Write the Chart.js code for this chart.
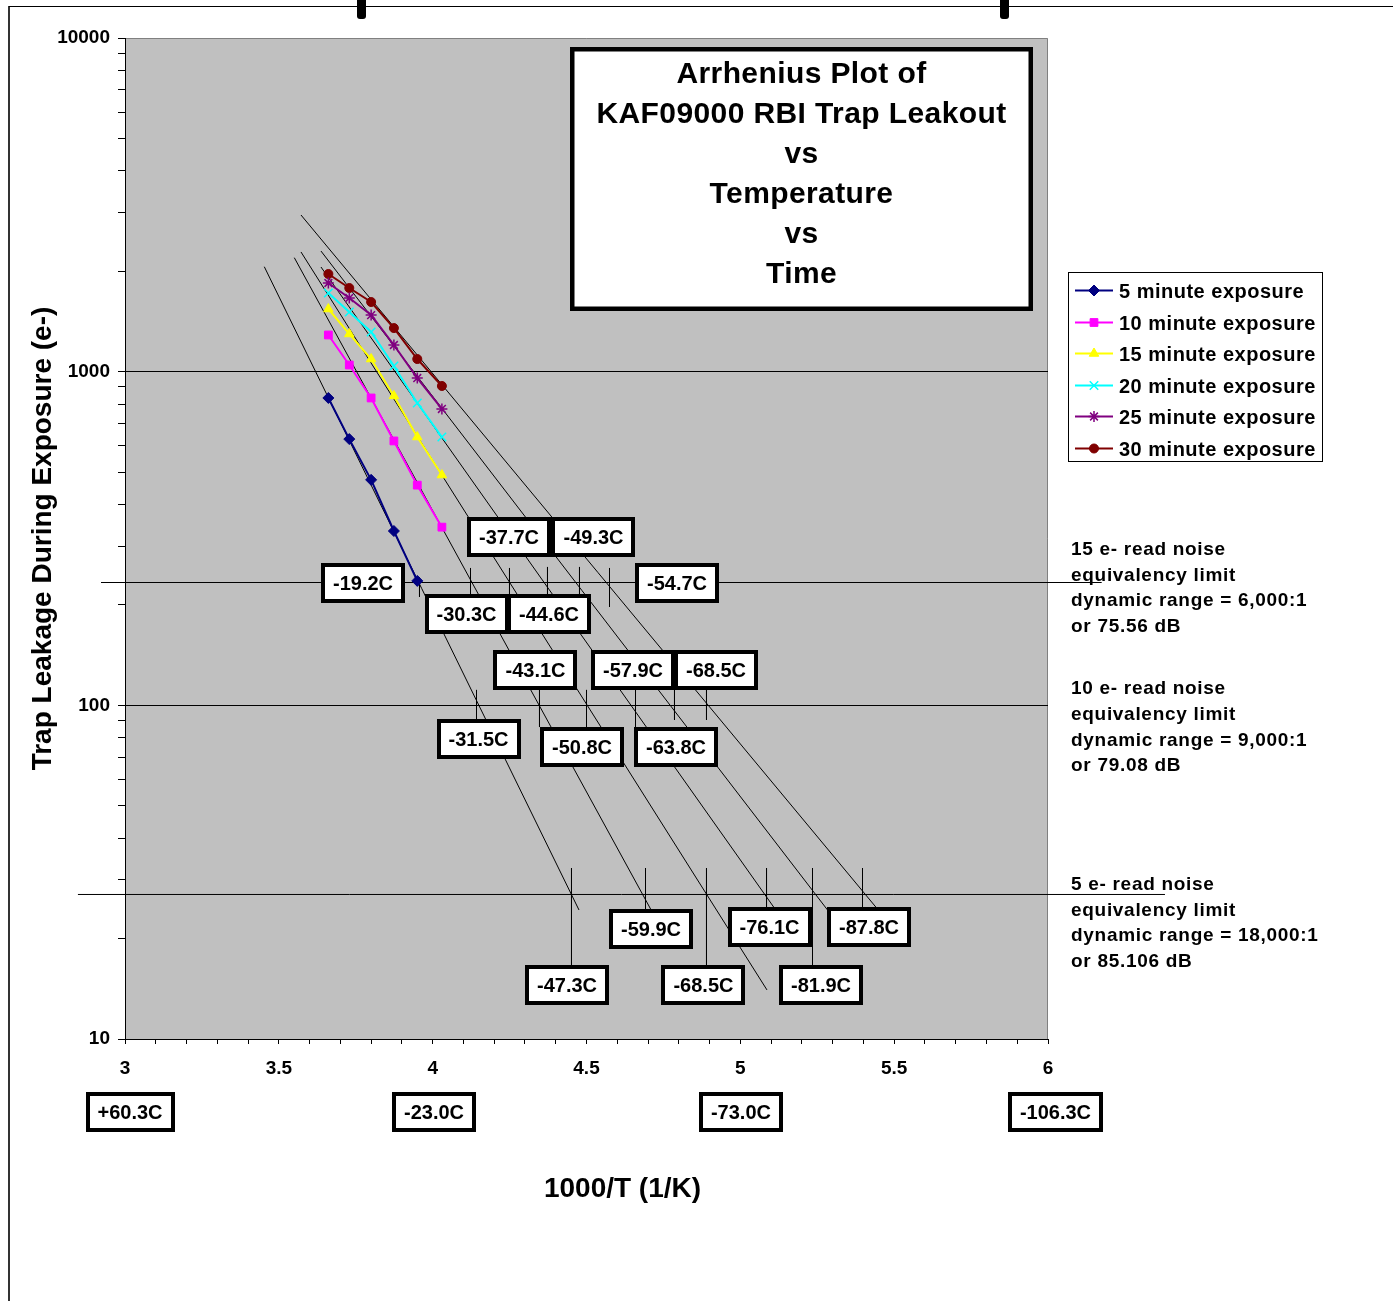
<!DOCTYPE html>
<html><head><meta charset="utf-8">
<script src="https://cdn.jsdelivr.net/npm/chart.js@4.4.1/dist/chart.umd.min.js"></script>
<style>html,body{margin:0;padding:0;background:#fff;}canvas{display:block;}</style>
</head><body>
<canvas id="c" width="1393" height="1301"></canvas>
<script>
// ---------------- data ----------------
// x = 1000/T (1/K) for 0, -5, -10, -15, -20, -25 C
const invT = [3.661, 3.729, 3.800, 3.874, 3.950, 4.030];
const seriesNames = ['5 minute exposure','10 minute exposure','15 minute exposure','20 minute exposure','25 minute exposure','30 minute exposure'];
const exp5  = [834, 628, 474, 333, 236];
const exp10 = [1288, 1047, 834, 620, 457, 342];
const exp15 = [1541, 1297, 1091, 846, 637, 490];
const exp20 = [1721, 1510, 1315, 1040, 806, 637];
const exp25 = [1844, 1663, 1478, 1202, 957, 773];
const exp30 = [1962, 1781, 1617, 1351, 1091, 906];
// extrapolated straight (Arrhenius) fit lines: [start, end]
const fitX = [[3.4528,4.4756],[3.5503,4.7545],[3.5720,5.0866],[3.6370,5.1614],[3.6370,5.3337],[3.5720,5.5027]];
const fitY = [[2063,24.36],[2196,20.5],[2284,14.03],[2059,21.2],[2299,21.2],[2948,21.2]];
// read-noise equivalency levels (e-)
const level15 = 233.4, level5 = 27.11;
const level15X = [2.922, 6.1745];
const level5X = [2.847, 6.3802];
const noiseText = [
  ['15 e- read noise','equivalency limit','dynamic range = 6,000:1','or 75.56 dB'],
  ['10 e- read noise','equivalency limit','dynamic range = 9,000:1','or 79.08 dB'],
  ['5 e- read noise','equivalency limit','dynamic range = 18,000:1','or 85.106 dB']
];
const noiseTextY = [282.2, 107.9, 27.97];
// leader ticks at the crossings
const leaderX = [3.9572,4.1230,4.2497,4.3732,4.4772,4.5748, 4.1425,4.3472,4.5000,4.6593,4.7860,4.8900, 4.4512,4.6918,4.8900,5.0851,5.2346,5.3971];
const leaderTop = [242.4,258.0,258.0,259.8,259.8,258.0, 111.2,111.2,111.2,111.2,111.2,111.2, 32.54,32.54,32.54,32.54,32.54,32.54];
const leaderBottom = [211.2,214.1,211.2,211.2,211.2,197.1, 90.4,86.1,86.1,85.5,90.4,90.4, 16.44,24.36,16.44,24.69,16.44,24.69];
// temperature callouts
const tempLabels = ['-19.2C','-37.7C','-49.3C','-54.7C','-30.3C','-44.6C','-43.1C','-57.9C','-68.5C','-31.5C','-50.8C','-63.8C','-59.9C','-76.1C','-87.8C','-47.3C','-68.5C','-81.9C'];
const tempLabelX = [3.7736,4.2481,4.5227,4.7941,4.1100,4.3781,4.3342,4.6511,4.9209,4.1490,4.4854,4.7909,4.7096,5.0948,5.4182,4.4366,4.8802,5.2622];
const tempLabelY = [232.7,319.5,319.5,232.7,187.2,187.2,127.2,127.2,127.2,79.3,75.0,75.0,21.36,21.66,21.66,14.52,14.52,14.52];
// axis temperature equivalents
const axisTempLabels = ['+60.3C','-23.0C','-73.0C','-106.3C'];
const axisTempX = [3.0163, 4.0043, 5.0021, 6.0243];
const axisTempY = 6.04;
const titleLines = ['Arrhenius Plot of','KAF09000 RBI Trap Leakout','vs','Temperature','vs','Time'];
const titleCorner = [[4.4464, 9398], [5.9512, 1520]];
const xTitle = '1000/T (1/K)';
const yTitle = 'Trap Leakage During Exposure (e-)';

// ---------------- styles ----------------
const FONT = "'Liberation Sans', Arial, Helvetica, sans-serif";
const colors = ['#000080','#FF00FF','#FFFF00','#00FFFF','#800080','#800000'];
const pStyles = ['rectRot','rect','triangle','crossRot','star','circle'];
const pRadius = [5.5, 5.5, 5.5, 6, 5.5, 4.5];
const seriesVals = [exp5, exp10, exp15, exp20, exp25, exp30];

const datasets = [];
seriesVals.forEach((vals, i) => {
  datasets.push({
    label: seriesNames[i],
    data: vals.map((v, j) => ({x: invT[j], y: v})),
    borderColor: colors[i], backgroundColor: colors[i],
    pointBackgroundColor: colors[i], pointBorderColor: colors[i],
    pointStyle: pStyles[i], pointRadius: pRadius[i], pointBorderWidth: (i===3||i===4)?1.5:1,
    borderWidth: 2, order: 0, isSeries: true
  });
});
fitX.forEach((fx, i) => {
  datasets.push({
    label: 'fit ' + seriesNames[i],
    data: [{x: fx[0], y: fitY[i][0]}, {x: fx[1], y: fitY[i][1]}],
    borderColor: '#000', borderWidth: 1, pointRadius: 0, order: 1
  });
});
datasets.push({label:'15 e- level', data:[{x:level15X[0],y:level15},{x:level15X[1],y:level15}], borderColor:'#000', borderWidth:1, pointRadius:0, clip:false, order:2});
datasets.push({label:'5 e- level', data:[{x:level5X[0],y:level5},{x:level5X[1],y:level5}], borderColor:'#000', borderWidth:1, pointRadius:0, clip:false, order:2});
const leaderData = [];
leaderX.forEach((x, i) => { leaderData.push({x, y: leaderTop[i]}, {x, y: leaderBottom[i]}, {x, y: null}); });
datasets.push({label:'leaders', data: leaderData, borderColor:'#000', borderWidth:1, pointRadius:0, spanGaps:false, order:2});

function isDecade(v){ const l = Math.log10(v); return Math.abs(l - Math.round(l)) < 1e-9; }

const decor = {
  id: 'decor',
  beforeDraw(chart) {
    const ctx = chart.ctx, a = chart.chartArea;
    ctx.save();
    ctx.fillStyle = '#fff'; ctx.fillRect(0, 0, chart.width, chart.height);
    ctx.fillStyle = '#C0C0C0'; ctx.fillRect(a.left, a.top, a.right - a.left, a.bottom - a.top);
    ctx.strokeStyle = '#808080'; ctx.lineWidth = 1;
    ctx.beginPath(); ctx.moveTo(a.left, a.top + 0.5); ctx.lineTo(a.right - 0.5, a.top + 0.5); ctx.lineTo(a.right - 0.5, a.bottom); ctx.stroke();
    // outer frame
    ctx.strokeStyle = '#333'; ctx.lineWidth = 2;
    ctx.beginPath(); ctx.moveTo(9, 6); ctx.lineTo(9, chart.height); ctx.stroke();
    ctx.strokeStyle = '#000'; ctx.lineWidth = 1;
    ctx.beginPath(); ctx.moveTo(9, 6.5); ctx.lineTo(chart.width, 6.5); ctx.stroke();
    ctx.fillStyle = '#000';
    [357, 1000].forEach(x => { ctx.beginPath(); ctx.roundRect(x, -4, 9, 23, 3); ctx.fill(); });
    ctx.restore();
  },
  afterDatasetsDraw(chart) {
    const ctx = chart.ctx, a = chart.chartArea;
    const xs = chart.scales.x, ys = chart.scales.y;
    ctx.save();
    function box(cx, cy, text, h) {
      ctx.font = 'bold 20px ' + FONT;
      const tw = ctx.measureText(text).width;
      const w = Math.round(Math.max(84, tw + 24));
      const x0 = Math.round(cx - w / 2), y0 = Math.round(cy - h / 2);
      ctx.fillStyle = '#fff'; ctx.fillRect(x0, y0, w, h);
      ctx.strokeStyle = '#000'; ctx.lineWidth = 4; ctx.strokeRect(x0 + 2, y0 + 2, w - 4, h - 4);
      ctx.fillStyle = '#000'; ctx.textAlign = 'center'; ctx.textBaseline = 'alphabetic';
      ctx.fillText(text, cx, cy + 7);
    }
    tempLabels.forEach((t, i) => box(xs.getPixelForValue(tempLabelX[i]), ys.getPixelForValue(tempLabelY[i]), t, 40));
    axisTempLabels.forEach((t, i) => box(xs.getPixelForValue(axisTempX[i]), ys.getPixelForValue(axisTempY), t, 40));

    // title box
    const tx0 = Math.round(xs.getPixelForValue(titleCorner[0][0])), ty0 = Math.round(ys.getPixelForValue(titleCorner[0][1]));
    const tx1 = Math.round(xs.getPixelForValue(titleCorner[1][0])), ty1 = Math.round(ys.getPixelForValue(titleCorner[1][1]));
    ctx.fillStyle = '#fff'; ctx.fillRect(tx0, ty0, tx1 - tx0, ty1 - ty0);
    ctx.strokeStyle = '#000'; ctx.lineWidth = 4.5; ctx.strokeRect(tx0 + 2.25, ty0 + 2.25, tx1 - tx0 - 4.5, ty1 - ty0 - 4.5);
    ctx.fillStyle = '#000'; ctx.font = 'bold 30px ' + FONT; ctx.textAlign = 'center'; ctx.textBaseline = 'alphabetic';
    ctx.letterSpacing = '0.4px';
    titleLines.forEach((t, i) => ctx.fillText(t, (tx0 + tx1) / 2, ty0 + 36 + i * 40));

    // legend
    const lx = a.right + 20, ly = 272, lw = 255, lh = 190;
    ctx.fillStyle = '#fff'; ctx.fillRect(lx, ly, lw, lh);
    ctx.strokeStyle = '#000'; ctx.lineWidth = 1; ctx.strokeRect(lx + 0.5, ly + 0.5, lw - 1, lh - 1);
    ctx.letterSpacing = '0.5px';
    chart.data.datasets.filter(d => d.isSeries).forEach((d, i) => {
      const y = Math.round(ly + 18 + i * 31.6) + 0.5;
      ctx.strokeStyle = d.borderColor; ctx.lineWidth = 2;
      ctx.beginPath(); ctx.moveTo(lx + 7, y); ctx.lineTo(lx + 45, y); ctx.stroke();
      ctx.fillStyle = d.pointBackgroundColor; ctx.strokeStyle = d.pointBorderColor; ctx.lineWidth = d.pointBorderWidth;
      Chart.helpers.drawPoint(ctx, {pointStyle: d.pointStyle, radius: d.pointRadius, borderWidth: d.pointBorderWidth, rotation: 0}, lx + 26, y);
      ctx.fillStyle = '#000'; ctx.font = 'bold 20px ' + FONT; ctx.textAlign = 'left';
      ctx.fillText(d.label, lx + 51, y + 7);
    });

    // read-noise notes
    ctx.letterSpacing = '0.7px';
    ctx.font = 'bold 19px ' + FONT; ctx.textAlign = 'left'; ctx.fillStyle = '#000';
    noiseText.forEach((lines, k) => {
      const by = ys.getPixelForValue(noiseTextY[k]);
      lines.forEach((t, j) => ctx.fillText(t, a.right + 23, by + j * 25.6));
    });

    // x axis title
    ctx.letterSpacing = '0px';
    ctx.font = 'bold 28px ' + FONT; ctx.textAlign = 'center';
    ctx.fillText(xTitle, (a.left + a.right) / 2 + 36, a.bottom + 158);
    ctx.restore();
  }
};

new Chart(document.getElementById('c'), {
  type: 'line',
  data: { datasets },
  options: {
    responsive: false, animation: false, events: [],
    layout: { padding: { top: 38, right: 345, left: 0, bottom: 0 } },
    plugins: { legend: { display: false }, tooltip: { enabled: false } },
    elements: { line: { tension: 0 } },
    scales: {
      x: {
        type: 'linear', min: 3, max: 6,
        afterFit: s => { s.height = 262; },
        ticks: {
          stepSize: 0.1, maxTicksLimit: 50, autoSkip: false, maxRotation: 0, padding: 13,
          color: '#000', font: { family: FONT, size: 19, weight: 'bold' },
          callback: v => (Math.abs(v * 2 - Math.round(v * 2)) < 1e-6) ? String(Math.round(v * 10) / 10) : ''
        },
        grid: { color: 'rgba(0,0,0,0)', tickColor: '#000', tickLength: 5, drawTicks: true },
        border: { display: true, color: '#000', width: 1 },
        title: { display: false }
      },
      y: {
        type: 'logarithmic', min: 10, max: 10000,
        afterFit: s => { s.width = 125; },
        afterBuildTicks: s => { s.ticks = s.ticks.filter(t => { const m = t.value / Math.pow(10, Math.floor(Math.log10(t.value) + 1e-9)); return Math.abs(m - Math.round(m)) < 1e-6; }); },
        ticks: {
          autoSkip: false, padding: 8, color: '#000',
          font: { family: FONT, size: 19, weight: 'bold' },
          callback: v => isDecade(v) ? String(Math.round(v)) : ''
        },
        grid: {
          color: c => (c.tick && isDecade(c.tick.value) && c.tick.value > 10 && c.tick.value < 10000) ? '#000' : 'rgba(0,0,0,0)',
          tickColor: '#000', tickLength: 7, drawTicks: true
        },
        border: { display: true, color: '#000', width: 1 },
        title: { display: true, text: yTitle, color: '#000', font: { family: FONT, size: 28, weight: 'bold' }, padding: { top: 26, bottom: 0 } }
      }
    }
  },
  plugins: [decor]
});
</script>
</body></html>
